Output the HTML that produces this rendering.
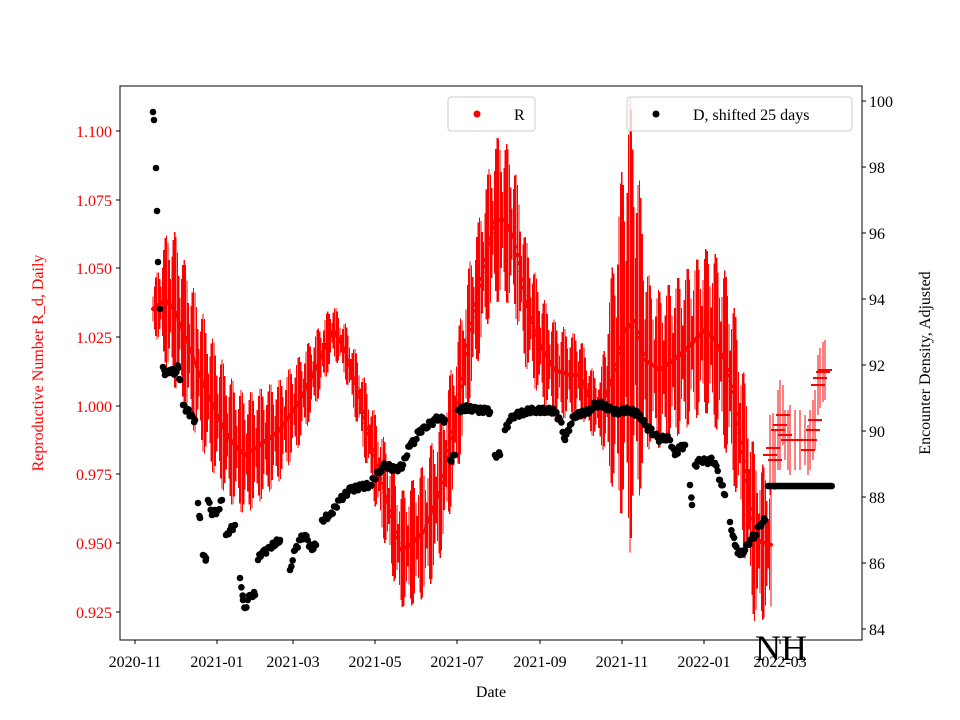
<!DOCTYPE html>
<html><head><meta charset="utf-8"><style>
body{margin:0;background:#fff}
svg{display:block;font-family:"Liberation Serif",serif}
</style></head><body>
<svg id="s" width="960" height="720" xmlns="http://www.w3.org/2000/svg">
<rect width="960" height="720" fill="#fff"/>
<g id="red" shape-rendering="crispEdges"></g><g id="blk"></g>
<rect x="120" y="86" width="742" height="554" fill="none" stroke="#000" stroke-width="1"/>
<g font-size="16" fill="red" text-anchor="end">
<text x="112" y="137">1.100</text><text x="112" y="206">1.075</text><text x="112" y="274">1.050</text><text x="112" y="343">1.025</text><text x="112" y="412">1.000</text><text x="112" y="480">0.975</text><text x="112" y="549">0.950</text><text x="112" y="618">0.925</text>
</g>
<g stroke="#000"><line x1="116" x2="120" y1="131" y2="131"/><line x1="116" x2="120" y1="200" y2="200"/><line x1="116" x2="120" y1="268" y2="268"/><line x1="116" x2="120" y1="337" y2="337"/><line x1="116" x2="120" y1="406" y2="406"/><line x1="116" x2="120" y1="474" y2="474"/><line x1="116" x2="120" y1="543" y2="543"/><line x1="116" x2="120" y1="612" y2="612"/>
<line x1="862" x2="866" y1="101" y2="101"/><line x1="862" x2="866" y1="167" y2="167"/><line x1="862" x2="866" y1="233" y2="233"/><line x1="862" x2="866" y1="299" y2="299"/><line x1="862" x2="866" y1="365" y2="365"/><line x1="862" x2="866" y1="431" y2="431"/><line x1="862" x2="866" y1="497" y2="497"/><line x1="862" x2="866" y1="563" y2="563"/><line x1="862" x2="866" y1="629" y2="629"/>
<line x1="135" x2="135" y1="640" y2="644"/><line x1="217" x2="217" y1="640" y2="644"/><line x1="293" x2="293" y1="640" y2="644"/><line x1="375" x2="375" y1="640" y2="644"/><line x1="457" x2="457" y1="640" y2="644"/><line x1="540" x2="540" y1="640" y2="644"/><line x1="622" x2="622" y1="640" y2="644"/><line x1="704" x2="704" y1="640" y2="644"/><line x1="780" x2="780" y1="640" y2="644"/></g>
<g font-size="16" fill="#000">
<text x="869" y="107">100</text><text x="869" y="173">98</text><text x="869" y="239">96</text><text x="869" y="305">94</text><text x="869" y="371">92</text><text x="869" y="437">90</text><text x="869" y="503">88</text><text x="869" y="569">86</text><text x="869" y="635">84</text>
</g>
<g font-size="16" fill="#000" text-anchor="middle">
<text x="135" y="667">2020-11</text><text x="217" y="667">2021-01</text><text x="293" y="667">2021-03</text><text x="375" y="667">2021-05</text><text x="457" y="667">2021-07</text><text x="540" y="667">2021-09</text><text x="622" y="667">2021-11</text><text x="704" y="667">2022-01</text><text x="780" y="667">2022-03</text>
<text x="491" y="697">Date</text>
</g>
<text x="781" y="660" font-size="36" text-anchor="middle" fill="#000">NH</text>
<text transform="translate(43,363) rotate(-90)" font-size="16" fill="red" text-anchor="middle">Reproductive Number R_d, Daily</text>
<text transform="translate(930,363) rotate(-90)" font-size="16" fill="#000" text-anchor="middle">Encounter Density, Adjusted</text>
<rect x="448" y="97" width="87" height="34" rx="3" fill="#fff" fill-opacity="0.8" stroke="#ccc"/>
<circle cx="477" cy="114" r="3.5" fill="red"/><text x="514" y="120" font-size="16">R</text>
<rect x="627" y="97" width="225" height="34" rx="3" fill="#fff" fill-opacity="0.8" stroke="#ccc"/>
<circle cx="656" cy="114" r="3.5" fill="#000"/><text x="693" y="120" font-size="16">D, shifted 25 days</text>
</svg>
<script>
function interp(k,x){for(var i=0;i<k.length-1;i++){if(x>=k[i][0]&&x<=k[i+1][0]){var t=(x-k[i][0])/(k[i+1][0]-k[i][0]);return k[i][1]+t*(k[i+1][1]-k[i][1]);}}return k[k.length-1][1];}
var C=[[153,309],[165,300],[175,310],[190,350],[210,400],[230,440],[245,455],[260,445],[280,430],[300,400],[320,360],[333,330],[345,350],[360,400],[375,460],[390,510],[400,550],[410,545],[425,530],[440,490],[455,420],[470,330],[485,260],[495,220],[505,220],[515,240],[525,300],[540,345],[555,370],[570,375],[580,375],[590,400],[600,410],[615,370],[625,330],[635,320],[645,360],[660,370],[680,355],[695,340],[705,330],[715,340],[725,360],[735,400],[745,470],[755,540],[772,545]];
var E=[[153,20],[170,80],[200,70],[250,60],[300,45],[340,25],[380,50],[430,70],[480,70],[500,85],[540,55],[580,40],[600,30],[630,230],[650,80],[700,80],[720,90],[750,90],[772,70]];
var s="";var k=0;
for(var x=153;x<=772;x+=1.355,k++){var y=interp(C,x),h=interp(E,x)*(0.3+0.7*Math.abs(Math.sin(Math.PI*k/7+0.5)));
s+='<line x1="'+x.toFixed(1)+'" x2="'+x.toFixed(1)+'" y1="'+(y-h).toFixed(1)+'" y2="'+(y+h).toFixed(1)+'" stroke="red" stroke-width="1.2"/>';
s+='<circle cx="'+x.toFixed(1)+'" cy="'+y.toFixed(1)+'" r="2" fill="red"/>';}
var P=[[770,455,40],[773,448,35],[775,460,30],[778,430,40],[780,425,45],[783,415,30],[785,435,25],[788,440,30],[790,440,35],[795,440,30],[800,440,30],[805,440,25],[808,450,25],[810,440,30],[813,430,30],[815,420,30],[818,385,30],[820,378,30],[823,372,30],[825,370,30]];
P.forEach(function(p){s+='<line x1="'+p[0]+'" x2="'+p[0]+'" y1="'+(p[1]-p[2])+'" y2="'+(p[1]+p[2])+'" stroke="red" stroke-width="1.2"/><line x1="'+(p[0]-7)+'" x2="'+(p[0]+7)+'" y1="'+p[1]+'" y2="'+p[1]+'" stroke="red" stroke-width="2"/>';});
document.getElementById("red").innerHTML=s;
var B=[[153,112],[154,120],[156,168],[157,211],[158,262],[160,309],[163,367],[165,375],[170,370],[175,372],[178,368],[180,380],[183,405],[187,410],[190,415],[195,420],[198,503],[200,518],[203,555],[206,558],[208,500],[212,515],[218,510],[222,500],[226,535],[230,530],[235,525],[240,578],[243,600],[245,608],[250,595],[255,595],[258,560],[262,553],[270,548],[280,540],[290,570],[295,550],[300,540],[305,535],[312,550],[316,545],[322,520],[330,515],[340,500],[350,490],[360,487],[370,485],[380,470],[385,465],[395,470],[403,465],[410,445],[415,440],[420,430],[425,428],[430,424],[435,420],[440,418],[445,420],[450,460],[455,455],[458,410],[465,408],[475,410],[485,410],[490,412],[495,455],[500,455],[505,430],[510,420],[515,415],[525,412],[535,410],[545,410],[555,412],[560,420],[565,440],[570,425],[575,415],[590,410],[595,405],[600,404],[610,410],[620,412],[630,410],[640,415],[645,425],[650,430],[655,435],[660,440],[665,437],[670,440],[675,455],[680,448],[685,445],[690,485],[692,505],[695,465],[700,460],[705,462],[710,460],[715,463],[720,480],[725,495],[730,522],[735,545],[740,555],[745,550],[750,540],[755,535],[760,525],[765,520]];
var b="";
for(var i=0;i<B.length;i++){b+='<circle cx="'+B[i][0]+'" cy="'+B[i][1]+'" r="3.3" fill="#000"/>';
if(i<B.length-1&&Math.abs(B[i+1][1]-B[i][1])<25){var dx=B[i+1][0]-B[i][0];for(var t=1.355;t<dx;t+=1.355){var yy=B[i][1]+(B[i+1][1]-B[i][1])*t/dx+Math.sin(t*3.1+i)*3;b+='<circle cx="'+(B[i][0]+t).toFixed(1)+'" cy="'+yy.toFixed(1)+'" r="3.3" fill="#000"/>';}}}
for(var x=768;x<=832;x+=1.355)b+='<circle cx="'+x.toFixed(1)+'" cy="486" r="3.3" fill="#000"/>';
document.getElementById("blk").innerHTML=b;
</script>
</body></html>
